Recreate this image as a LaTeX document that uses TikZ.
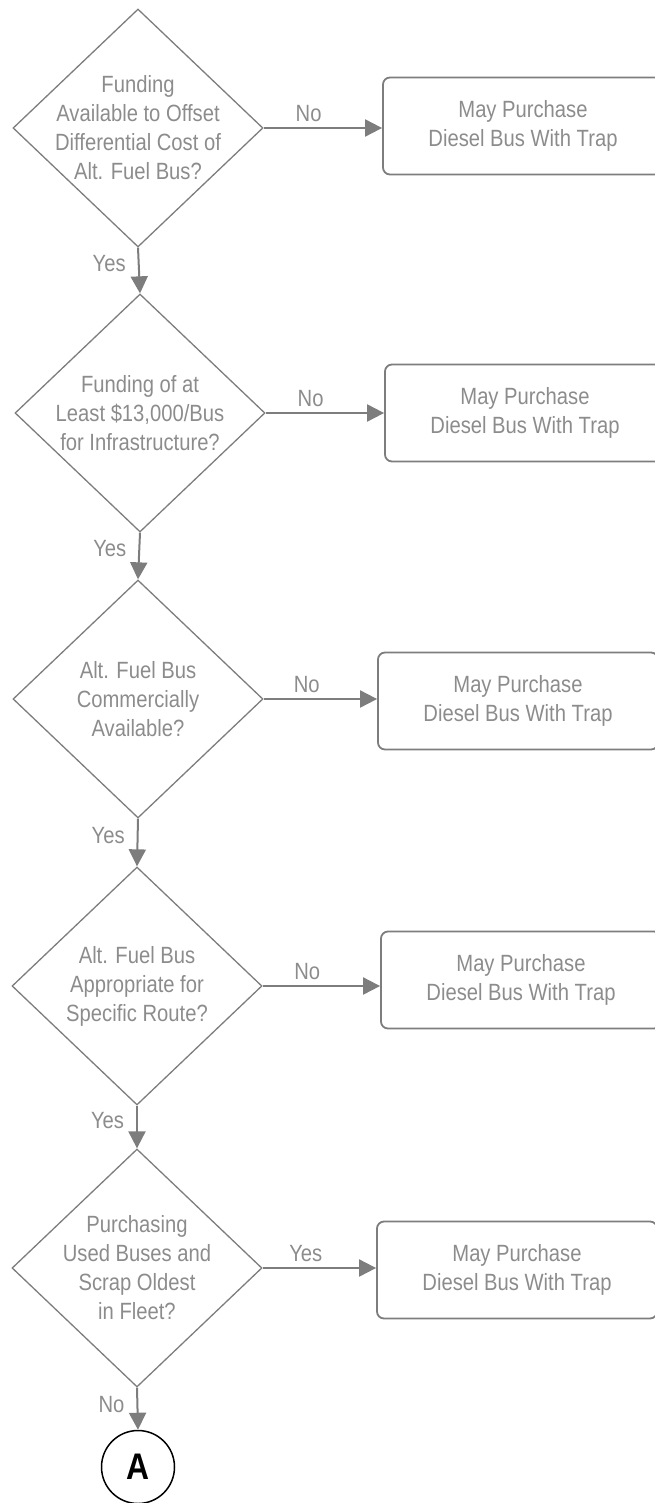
\documentclass[tikz,border=0pt]{standalone}
\usepackage{fontspec}
\setmainfont{Liberation Sans}[FakeStretch=0.86]
\usepackage{tikz}
\definecolor{flowgray}{RGB}{125,125,125}
\definecolor{textgray}{RGB}{140,140,140}
\usetikzlibrary{arrows.meta,shapes.geometric}

\begin{document}
\begin{tikzpicture}[x=1pt, y=-1pt, font=\fontsize{23.5}{29}\selectfont]
    \tikzstyle{decision} = [diamond, draw=flowgray, line width=1.3pt, text=textgray,
                            minimum width=250pt, minimum height=238pt, inner sep=-30pt, align=center]
    \tikzstyle{outcome} = [rectangle, rounded corners=7pt, draw=flowgray, line width=1.8pt, text=textgray,
                           minimum width=280pt, minimum height=97pt, align=center]
    \tikzstyle{flow} = [-{Triangle[length=17pt, width=17pt]}, draw=flowgray, line width=2pt]
    \tikzstyle{lbl} = [text=textgray, inner sep=5pt]

    \useasboundingbox (0,0) rectangle (655,1503);

    % Decisions
    \node[decision] (d1) at (138,128) {Funding\\Available to Offset\\Differential Cost of\\Alt. Fuel Bus?};
    \node[decision] (d2) at (140,413) {Funding of at\\Least \$13,000/Bus\\for Infrastructure?};
    \node[decision] (d3) at (138,699) {Alt. Fuel Bus\\Commercially\\Available?};
    \node[decision] (d4) at (137,986) {Alt. Fuel Bus\\Appropriate for\\Specific Route?};
    \node[decision] (d5) at (137,1268) {Purchasing\\Used Buses and\\Scrap Oldest\\in Fleet?};

    % Outcomes
    \node[outcome] (b1) at (523,126) {May Purchase\\Diesel Bus With Trap};
    \node[outcome] (b2) at (525,413) {May Purchase\\Diesel Bus With Trap};
    \node[outcome] (b3) at (518,701) {May Purchase\\Diesel Bus With Trap};
    \node[outcome] (b4) at (521,980) {May Purchase\\Diesel Bus With Trap};
    \node[outcome] (b5) at (517,1270) {May Purchase\\Diesel Bus With Trap};

    % Off-page connector
    \node[circle, draw=black, line width=1.5pt, minimum size=73pt, inner sep=0pt,
          font=\fontsize{37}{37}\selectfont\bfseries] (conA) at (138,1467) {A};

    % Connections
    \draw[flow] (d1.east) -- node[lbl, above, pos=0.38] {No} (d1.east -| b1.west);
    \draw[flow] (d2.east) -- node[lbl, above, pos=0.38] {No} (d2.east -| b2.west);
    \draw[flow] (d3.east) -- node[lbl, above, pos=0.38] {No} (d3.east -| b3.west);
    \draw[flow] (d4.east) -- node[lbl, above, pos=0.38] {No} (d4.east -| b4.west);
    \draw[flow] (d5.east) -- node[lbl, above, pos=0.38] {Yes} (d5.east -| b5.west);

    \draw[flow] (d1.south) -- node[lbl, left=7pt, pos=0.35] {Yes} (d2.north);
    \draw[flow] (d2.south) -- node[lbl, left=7pt, pos=0.35] {Yes} (d3.north);
    \draw[flow] (d3.south) -- node[lbl, left=7pt, pos=0.35] {Yes} (d4.north);
    \draw[flow] (d4.south) -- node[lbl, left=7pt, pos=0.35] {Yes} (d5.north);
    \draw[flow] (d5.south) -- node[lbl, left=7pt, pos=0.4] {No} (conA.north);
\end{tikzpicture}
\end{document}
